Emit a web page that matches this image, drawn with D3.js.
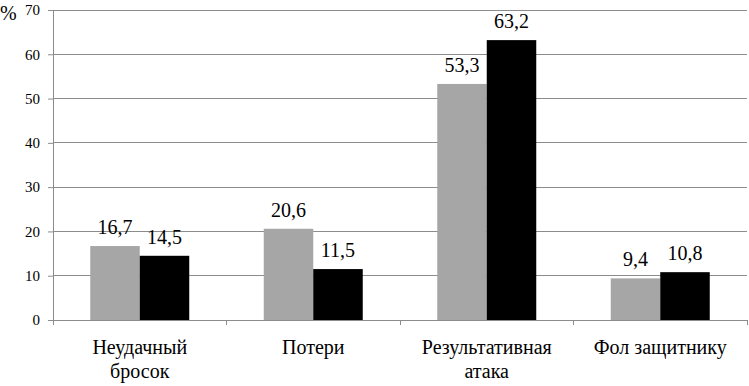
<!DOCTYPE html>
<html><head><meta charset="utf-8">
<script src="https://cdn.jsdelivr.net/npm/d3@7"></script>
<style>body{margin:0;background:#fff}svg{display:block}</style>
</head><body><svg id="c" width="749" height="386"><style>text{font-family:"Liberation Serif",serif}</style></svg>
<script>
const categories = [["Неудачный","бросок"],["Потери"],["Результативная","атака"],["Фол защитнику"]];
const seriesA = [16.7, 20.6, 53.3, 9.4];
const seriesB = [14.5, 11.5, 63.2, 10.8];
const yTicks = [0,10,20,30,40,50,60,70];
const fmt = v => String(v).replace(".", ",");
const FONT = "Liberation Serif";

const svg = d3.select("#c");
const mLeft = 53, mRight = 747, mTop = 10, mBottom = 320;
const x = d3.scaleBand().domain(d3.range(categories.length)).range([mLeft, mRight]);
const y = d3.scaleLinear().domain([0,70]).range([mBottom, mTop]);

// gridlines
svg.append("g").selectAll("line").data(yTicks.filter(t=>t>0)).join("line")
  .attr("x1", mLeft).attr("x2", mRight).attr("y1", d=>y(d)).attr("y2", d=>y(d))
  .attr("stroke", "#8c8c8c").attr("stroke-width", 1).attr("shape-rendering","crispEdges");

// y axis
const ya = svg.append("g").attr("transform", `translate(${mLeft},0)`)
  .call(d3.axisLeft(y).tickValues(yTicks).tickSize(5).tickPadding(8).tickFormat(d=>d));
ya.attr("font-family", FONT).attr("font-size", 15);
ya.select(".domain").attr("stroke","#8c8c8c");
ya.selectAll(".tick line").attr("stroke","#8c8c8c");
ya.selectAll("text").attr("font-family", FONT).attr("font-size", 15).attr("fill","#000");

svg.append("text").attr("x", 0).attr("y", 20).attr("font-family", FONT).attr("font-size", 20).text("%");

// bars
const bw = 49.5;
const cx = i => x(i) + x.bandwidth()/2;
svg.append("g").selectAll("rect").data(seriesA).join("rect")
  .attr("x", (d,i)=>cx(i)-bw).attr("width", bw)
  .attr("y", d=>y(d)).attr("height", d=>mBottom-y(d)).attr("fill","#a6a6a6");
svg.append("g").selectAll("rect").data(seriesB).join("rect")
  .attr("x", (d,i)=>cx(i)).attr("width", bw)
  .attr("y", d=>y(d)).attr("height", d=>mBottom-y(d)).attr("fill","#000");

// x axis
const xa = svg.append("g").attr("transform", `translate(0,${mBottom})`)
  .call(d3.axisBottom(x).tickSize(0).tickFormat(""));
xa.select(".domain").attr("stroke","#8c8c8c");
svg.append("g").selectAll("line").data(d3.range(categories.length+1)).join("line")
  .attr("x1", i=> i<categories.length ? x(i) : mRight).attr("x2", i=> i<categories.length ? x(i) : mRight)
  .attr("y1", mBottom).attr("y2", mBottom+5).attr("stroke","#8c8c8c").attr("shape-rendering","crispEdges");

// labels
const lbl = svg.append("g").attr("font-family", FONT).attr("font-size", 20).attr("text-anchor","middle");
lbl.selectAll("text.a").data(seriesA).join("text").attr("class","a")
  .attr("font-family", FONT).attr("x",(d,i)=>cx(i)-bw/2).attr("y", d=>y(d)-12).text(fmt);
lbl.selectAll("text.b").data(seriesB).join("text").attr("class","b")
  .attr("font-family", FONT).attr("x",(d,i)=>cx(i)+bw/2).attr("y", d=>y(d)-12).text(fmt);

// category labels
const cat = svg.append("g").attr("font-family", FONT).attr("font-size", 20).attr("text-anchor","middle");
categories.forEach((lines,i)=>{
  const t = cat.append("text").attr("font-family", FONT).attr("x", cx(i)).attr("y", 354);
  lines.forEach((l,j)=> t.append("tspan").attr("x", cx(i)).attr("dy", j===0?0:24).text(l));
});
</script></body></html>
